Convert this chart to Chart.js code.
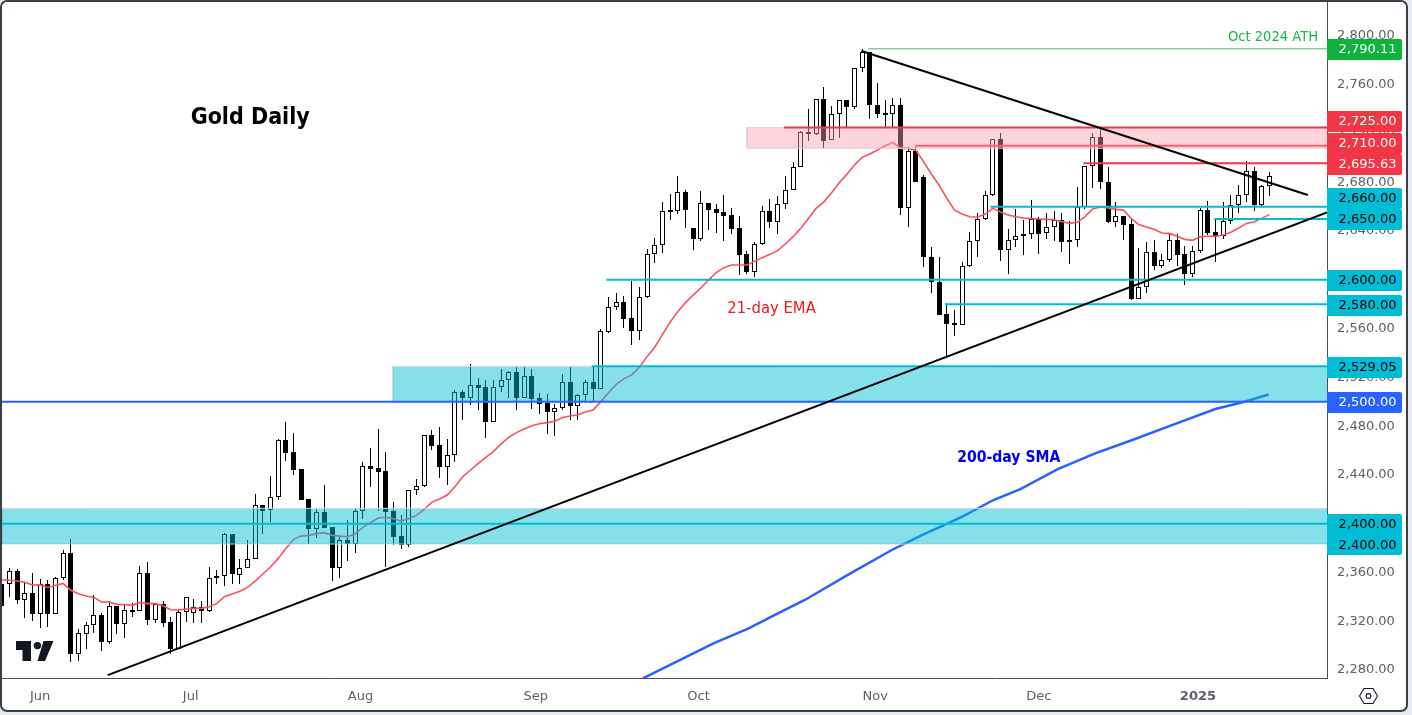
<!DOCTYPE html>
<html>
<head>
<meta charset="utf-8">
<title>Gold Daily</title>
<script src="https://cdn.jsdelivr.net/npm/chart.js@4/dist/chart.umd.min.js"></script>
<style>
  html, body { margin: 0; padding: 0; background: #e9ebf3; overflow: hidden; }
  #wrap { position: relative; width: 1412px; height: 715px; }
  #back { position: absolute; left: 0; top: 0; width: 1408px; height: 712px; background: #fff; border-radius: 7px; }
  #chart { position: absolute; left: 0; top: 0; }
  #frame { position: absolute; left: 0; top: 0; width: 1408px; height: 712px; box-sizing: border-box;
           border: 2px solid #3a3e4a; border-radius: 7px; pointer-events: none; }
  #logo { position: absolute; left: 14px; top: 639px; }
  #gear { position: absolute; left: 1358px; top: 686px; }
</style>
</head>
<body>
<div id="wrap">
  <div id="back"></div>
  <canvas id="chart" width="1412" height="715"></canvas>
  <div id="frame"></div>
  <svg id="logo" width="42" height="24" viewBox="14 639 42 24">
    <path fill="#131722" d="M16 641H31V661H22.5V650H16Z"/>
    <circle fill="#131722" cx="37.4" cy="645.6" r="3.7"/>
    <path fill="#131722" d="M43.5 641H53.5L45 661H37.5Z"/>
  </svg>
  <svg id="gear" width="21" height="20" viewBox="0 0 21 20">
    <path fill="none" stroke="#131722" stroke-width="1.1" d="M1.5 10L6 2.5H15L19.5 10L15 17.5H6Z"/>
    <circle fill="none" stroke="#131722" stroke-width="1.1" cx="10.5" cy="10" r="2.4"/>
  </svg>
</div>
<script>
// candles, one per trading day, day 0 is cut off by the left edge
const opens = [
  2350.5,2350.2,2360.9,2337.6,2342.8,2326.1,2350.2,2326.1,2355.1,2375.6,
  2293.3,2309.7,2316.6,2324.8,2303.2,2332.2,2317.9,2328.9,2328.1,2359.2,
  2321.2,2333.8,2319,2297.4,2327.2,2326.4,2331.4,2328.6,2355.1,2356.8,
  2391.5,2358.1,2363.3,2370.7,2415,2410.9,2421.6,2468.3,2458.5,2444.8,
  2420.2,2395.9,2409.3,2397.2,2363.9,2386.3,2383.6,2410.1,2447,2445.3,
  2442.9,2410.1,2389.6,2382.2,2427.3,2430.6,2472.4,2464.2,2446.7,2456,
  2507.8,2503.4,2513.5,2512.1,2483.7,2511.9,2517.6,2524.2,2503.4,2520.9,
  2502.8,2498.7,2491.9,2495.2,2516,2496.8,2505.8,2516,2510.8,2557.5,
  2577.5,2581.6,2568.5,2558.3,2585.7,2620.9,2628.3,2655.9,2656.2,2671.8,
  2642.2,2633.8,2662.7,2657.8,2655.4,2652.9,2642.2,2620.9,2606.7,2629.1,
  2656.2,2647.7,2661.9,2673.4,2692.3,2721,2719.3,2748,2714.4,2735.7,
  2747.2,2741.5,2773.5,2786.6,2743.1,2735.5,2735.7,2743.1,2658.6,2705.4,
  2684.1,2618.5,2598,2571.7,2564.3,2562.7,2611.1,2631.6,2649.6,2669.3,
  2715.2,2624.2,2632.4,2635.7,2637.3,2649.6,2638.1,2643,2648.8,2632.4,
  2632.4,2659.5,2693.1,2716.9,2680,2647.2,2652.1,2645.5,2584.3,2593.9,
  2622.6,2611.6,2616,2632.4,2620.9,2605.1,2623.4,2657,2639,2635.7,
  2648,2661.1,2669.3,2689,2661.7,2676.7
];
const highs = [
  2356,2363.3,2362.8,2351,2359.2,2354.3,2353.8,2356.5,2378.4,2387.1,
  2313.3,2319,2341.2,2326.4,2336.3,2332.2,2333,2334.6,2365.2,2368.3,
  2334.6,2336.3,2323.1,2330.3,2339.5,2337.9,2336.3,2364.1,2361.7,2392,
  2391.5,2370.7,2386.3,2424.3,2415.3,2439.1,2469.4,2483.3,2474,2444.8,
  2420.2,2411.7,2431.7,2397.2,2389.3,2403,2412.5,2450.5,2462,2477.6,
  2458.7,2417.5,2407.1,2427.3,2436.3,2472.4,2476.8,2479,2469.4,2509.3,
  2509.4,2531,2519.5,2517.9,2517.6,2526.9,2525,2528.3,2528.3,2526.6,
  2506.9,2506.1,2498.5,2522.5,2528.3,2506.7,2517.6,2528.3,2559.4,2585.7,
  2589.2,2586.5,2599.3,2593.9,2625,2634,2663.5,2670.4,2685.2,2673.4,
  2642.2,2672.6,2662.7,2662.2,2669.6,2658.6,2652.1,2623.4,2630.7,2660.3,
  2666,2668.5,2684.9,2696.4,2722,2739.8,2748,2757.9,2742.6,2747.2,
  2747.2,2773.7,2789,2786.9,2761.2,2747.2,2748.9,2748.9,2708.7,2708.7,
  2685.7,2626.9,2618.5,2580.7,2575,2614.4,2639.2,2654.5,2672.6,2715.5,
  2720.2,2641.7,2658.1,2649.1,2665.5,2651.3,2654.5,2656.2,2654.5,2648.5,
  2675.9,2693.1,2720.2,2723.4,2692.3,2663.6,2652.1,2650.4,2625.8,2630.8,
  2632.4,2620.9,2638.1,2637.3,2627.5,2627.5,2658.6,2664.4,2649.1,2663.6,
  2669.3,2677.5,2697.2,2692.3,2677.5,2688.4
];
const lows = [
  2326,2340.1,2334.4,2322.9,2320.4,2314.7,2315.5,2326.1,2353.5,2286.8,
  2287.6,2297.4,2310.6,2295.8,2301.5,2309.7,2306.5,2323.7,2328.1,2317.1,
  2318.2,2315.5,2293.3,2296.9,2319,2318.8,2318.8,2327.2,2350.5,2349.1,
  2350.5,2350.5,2363.3,2370.7,2391.5,2401.3,2419.6,2451.4,2440.2,2419.6,
  2383.6,2388.5,2396.7,2353.2,2355.4,2369.6,2376.2,2404.1,2430.3,2410.6,
  2364.7,2382.2,2378.9,2381.1,2423.5,2430.3,2460.4,2437.7,2431.9,2450.8,
  2485.2,2497.6,2493.3,2470.6,2483.7,2508,2503.4,2493.3,2503.4,2494.4,
  2490.3,2473.9,2472.2,2493.5,2485.2,2485.2,2500.1,2500.1,2510.8,2556.7,
  2575.6,2560.8,2546.9,2550.7,2584.8,2614.1,2622.3,2649.1,2654.3,2642.8,
  2624.7,2632.1,2640.9,2638.7,2632.1,2637.9,2604.2,2605,2602.6,2628.3,
  2642.8,2637.9,2658.4,2673.4,2692.3,2714.1,2719.1,2708.4,2714.4,2716.6,
  2725,2739.8,2770.7,2731.6,2733,2725,2725,2652.9,2643.6,2680,
  2610.8,2589.5,2571.4,2537.5,2554.2,2562.7,2610.3,2619,2649.1,2668.5,
  2615.7,2605.1,2627.2,2620.6,2633.8,2621.5,2633.8,2632.1,2623.1,2613.3,
  2627.2,2657.8,2675.6,2674.8,2646.3,2643.6,2632.9,2583.7,2584,2589.5,
  2607.8,2610,2614.9,2611.1,2596,2602.6,2621.7,2636.5,2614.9,2633.2,
  2645.5,2655.1,2664.1,2656.7,2660.3,2669
];
const closes = [
  2332.4,2360.9,2337.6,2342.8,2326.1,2350.2,2326.1,2355.1,2375.6,2293.3,
  2310,2316.6,2324.8,2303.2,2332.2,2317.9,2328.9,2327.8,2359.2,2321.2,
  2333.8,2318.8,2297.4,2327.2,2339.5,2331.4,2328.6,2355.1,2356.8,2391.2,
  2358.4,2363.3,2370.7,2415,2410.6,2421.6,2468.3,2458.2,2444.2,2419.6,
  2395.9,2409.3,2396.7,2363.9,2386.3,2383.6,2410.1,2447,2445,2442.6,
  2409.5,2389.3,2382.2,2427.3,2430.6,2472.4,2463.9,2446.7,2456,2507.7,
  2503.4,2513.5,2511.3,2483.7,2512.1,2517.6,2524.2,2503.4,2520.9,2502.6,
  2498.5,2491.9,2495.2,2516,2496.8,2505.8,2516,2510.8,2557.8,2577.5,
  2581.6,2568.2,2558.3,2585.7,2620.9,2628.3,2656.2,2656.2,2671.8,2657.5,
  2633.8,2662.7,2657.5,2655.1,2652.6,2642,2620.6,2606.7,2629.1,2656.2,
  2647.7,2661.9,2673.4,2692.3,2721,2719.3,2748,2714.1,2735.7,2747.2,
  2741.5,2773.5,2786.6,2743.1,2735.7,2735.7,2743.1,2658.6,2705.4,2680,
  2618.5,2598,2571.4,2564,2562.7,2611.1,2631.6,2649.6,2669.3,2715.2,
  2624.2,2632.4,2635.7,2637.3,2649.6,2637.9,2643,2648.8,2631.3,2631.3,
  2659.5,2693.1,2716.9,2680,2647.2,2652.1,2645.3,2584.3,2593.9,2622.6,
  2611.6,2616,2632.4,2620.6,2605.1,2623.4,2657,2638.7,2635.7,2648,
  2661.1,2669.3,2689,2661.7,2676.7,2684.9
];
// 21-day EMA, one per candle
const ema21 = [
  2353.8,2353.8,2352.9,2351.9,2349.7,2349.9,2347.7,2349.4,2351,2345.3,
  2342.5,2340.6,2339.5,2335.7,2335.7,2333.8,2333.5,2333,2335.4,2334.4,
  2334.4,2332.7,2329.4,2329.2,2330,2330.5,2330.5,2331.9,2334.4,2340.1,
  2342.3,2344.5,2347.7,2352.9,2358.7,2364.4,2371.5,2379.7,2387.1,2389.8,
  2390.4,2391.8,2392.6,2390.4,2389.8,2389.3,2391.5,2396.9,2400.8,2404.6,
  2405.2,2404,2402.1,2404.3,2406.8,2411.7,2417.7,2420.2,2423.5,2430.3,
  2438.5,2443.8,2449.2,2454.4,2459.1,2465.4,2470.8,2474.7,2477.7,2480.4,
  2482,2482.9,2484,2487,2488.3,2489.4,2491.6,2493.5,2500.1,2507.5,
  2514.3,2519,2522,2528.3,2537,2544.7,2555,2565.2,2573.9,2581.3,
  2587.5,2593.3,2599.9,2605.9,2610,2612.2,2612.2,2612.2,2615.2,2618.2,
  2620.9,2623.9,2629.4,2635.4,2642.2,2650.4,2658.6,2663.8,2671.2,2679.7,
  2686.5,2694.2,2700.5,2703.2,2706.5,2710,2712.8,2707.8,2707.8,2706.2,
  2696.9,2686.8,2677.8,2667.1,2657.3,2654,2651.8,2651.5,2653.7,2658.6,
  2655.6,2653.2,2651.8,2650.7,2650.2,2649.9,2649.6,2649.3,2647.7,2646.3,
  2647.2,2651.8,2658.1,2659.7,2658.9,2657.8,2657.3,2650.4,2645.3,2643.3,
  2641.4,2638.4,2638.1,2635.7,2633.2,2632.4,2635.4,2635.7,2635.7,2636.8,
  2639,2642.5,2646.3,2647.4,2650.4,2653.5
];
// 200-day SMA, read at a few days along its length
const smaDays = [83.46,87.79,92.65,97.23,100.2,104.53,110.47,115.86,119.65,125.04,129.09,132.6,137.46,142.32,147.17,152.58,157.97,161.76,164.89];
const smaValues = [2273.1,2286.7,2301.8,2314.1,2323.7,2337.4,2359.2,2378.4,2390.1,2405.7,2419.4,2428.4,2444.8,2457.7,2468.6,2481.5,2494,2500,2506];

// levels: from which day, at what price
const dayMax = 172.5;
const dayMin = 0.045;
const greenLevelDay = 112.8, greenLevelPrice = 2789.5;
const redLevelDays = [101.8, 140.8];
const redLevelPrices = [2725, 2695.63];
const lowRedLevelDay = 118.9, lowRedLevelPrice = 2710;
const cyanLevelDays = [128.7, 157.8, 78.7, 122.8, 76.8, dayMin];
const cyanLevelPrices = [2660, 2650, 2600, 2580, 2529.05, 2400];
const blueLevelPrice = 2500;

// zones
const zoneDays = [50.9, dayMin];
const zoneTops = [2529.05, 2412.6];
const zoneBottoms = [2500, 2383.3];
const redZoneDay = 97, redZoneTop = 2725, redZoneBottom = 2707.9;

// trend lines
const fallingDays = [111.9, 170], fallingPrices = [2787.7, 2669.6];
const risingDays = [13.81, 172.5], risingPrices = [2275.8, 2655.2];

// axes
const yTicks = [2280,2320,2360,2400,2440,2480,2520,2560,2600,2640,2680,2720,2760,2800];
const monthDays = [5, 24.6, 46.7, 69.5, 90.7, 113.7, 135, 155.7];
const monthLabels = ['Jun','Jul','Aug','Sep','Oct','Nov','Dec','2025'];

// price tags on the right axis. chipAt is the price they sit at after being pushed apart
const chipTexts = ['2,790.11','2,725.00','2,710.00','2,695.63','2,660.00','2,650.00','2,600.00','2,580.00','2,529.05','2,500.00','2,400.00','2,400.00'];
const chipAt = [2789.3,2729.9,2712.2,2695,2666.7,2649.5,2599.6,2579.1,2528.2,2499.5,2399.4,2382.5];
const chipFill = ['#0fb33c','#f23645','#f23645','#f23645','#00bcd4','#00bcd4','#00bcd4','#00bcd4','#00bcd4','#2962ff','#00bcd4','#00bcd4'];
const chipInk = ['#fff','#fff','#fff','#fff','#000','#000','#000','#000','#000','#fff','#000','#000'];

// text notes on the chart
const noteTexts = ['Gold Daily','Oct 2024 ATH','21-day EMA','200-day SMA'];
const noteDays = [32.35,165.47,100.2,131.08];
const notePrices = [2732.7,2799.2,2576,2453.9];
const noteFonts = ['bold 23px "DejaVu Sans Condensed","Noto Sans"','14.6px "DejaVu Sans Condensed","Noto Sans"','16.5px "DejaVu Sans Condensed","Noto Sans"','bold 15.6px "DejaVu Sans Condensed","Noto Sans"'];
const noteColors = ['#000','#1fb446','#f01818','#0000f0'];

const axisFont = '"DejaVu Sans"';
const days = closes.map((c, i) => i);

function hline(day, price, color, width, order) {
    return {
        type: 'line',
        data: [{x: day, y: price}, {x: dayMax, y: price}],
        borderColor: color, borderWidth: width, pointRadius: 0, order: order
    };
}

function zoneFill(day, top, bottom, fillColor, edgeColor) {
    return [{
        type: 'line',
        data: [{x: day, y: top}, {x: dayMax, y: top}],
        borderColor: edgeColor, borderWidth: 1, pointRadius: 0,
        backgroundColor: fillColor, fill: {value: bottom}, order: 7
    }, {
        type: 'line',
        data: [{x: day, y: top}, {x: day, y: bottom}, {x: dayMax, y: bottom}],
        borderColor: edgeColor, borderWidth: 1, pointRadius: 0, order: 7
    }];
}

// keeps wicks and bodies on whole pixels
const crispBars = {
    id: 'crispBars',
    beforeDatasetDraw(chart, args) {
        if (args.meta.type !== 'bar') return;
        args.meta.data.forEach(el => {
            el.x = Math.floor(el.x) + 0.5;
            el.y = Math.round(el.y);
            el.base = Math.round(el.base);
        });
    }
};

const notesAndChips = {
    id: 'notesAndChips',
    afterDraw(chart) {
        const ctx = chart.ctx, x = chart.scales.x, y = chart.scales.y;
        ctx.save();
        ctx.textBaseline = 'middle';
        noteTexts.forEach((t, i) => {
            ctx.font = noteFonts[i];
            ctx.fillStyle = noteColors[i];
            ctx.textAlign = 'center';
            ctx.fillText(t, x.getPixelForValue(noteDays[i]), y.getPixelForValue(notePrices[i]));
        });
        const left = x.right, w = 75, h = 21;
        chipTexts.forEach((t, i) => {
            const cy = y.getPixelForValue(chipAt[i]);
            ctx.fillStyle = chipFill[i];
            ctx.beginPath();
            ctx.roundRect(left, Math.round(cy - h / 2), w, h, [0, 2, 2, 0]);
            ctx.fill();
            ctx.fillStyle = chipInk[i];
            ctx.font = '13px ' + axisFont;
            ctx.textAlign = 'right';
            ctx.fillText(t, left + 69.5, cy + 0.5);
        });
        ctx.restore();
    }
};

const tickColor = '#5d606b';
const lineColor = '#4a4e59';

new Chart(document.getElementById('chart'), {
    type: 'bar',
    data: {
        datasets: [
            {
                // wicks
                data: days.map(i => ({x: i, y: [lows[i], highs[i]]})),
                backgroundColor: '#000', barThickness: 1, grouped: false,
                inflateAmount: 0, order: 11
            },
            {
                // bodies
                data: days.map(i => ({x: i, y: [opens[i], closes[i]]})),
                backgroundColor: days.map(i => closes[i] >= opens[i] ? '#fff' : '#000'),
                borderColor: '#000', borderWidth: 1, borderSkipped: false,
                barThickness: 5, grouped: false, minBarLength: 2,
                inflateAmount: 0, order: 10
            },
            {
                type: 'line',
                data: days.map(i => ({x: i, y: ema21[i]})),
                borderColor: '#f7525f', borderWidth: 1.6, pointRadius: 0, order: 9
            },
            {
                type: 'line',
                data: smaDays.map((d, i) => ({x: d, y: smaValues[i]})),
                borderColor: '#2962ff', borderWidth: 2.5, pointRadius: 0, order: 9
            },
            hline(lowRedLevelDay, lowRedLevelPrice, '#f23645', 2, 8),
            ...zoneFill(zoneDays[0], zoneTops[0], zoneBottoms[0], 'rgba(0,190,211,0.48)', '#d6d9e6'),
            ...zoneFill(zoneDays[1], zoneTops[1], zoneBottoms[1], 'rgba(0,190,211,0.48)', '#d6d9e6'),
            ...zoneFill(redZoneDay, redZoneTop, redZoneBottom, 'rgba(250,159,170,0.44)', '#d6d9e6'),
            hline(greenLevelDay, greenLevelPrice, '#4fb36a', 1, 6),
            ...redLevelDays.map((d, i) => hline(d, redLevelPrices[i], '#f23645', 2, 6)),
            ...cyanLevelDays.map((d, i) => hline(d, cyanLevelPrices[i], '#00bcd4', 2, 6)),
            hline(dayMin, blueLevelPrice, '#2962ff', 2, 6),
            {
                type: 'line',
                data: fallingDays.map((d, i) => ({x: d, y: fallingPrices[i]})),
                borderColor: '#000', borderWidth: 2, pointRadius: 0, order: 5
            },
            {
                type: 'line',
                data: risingDays.map((d, i) => ({x: d, y: risingPrices[i]})),
                borderColor: '#000', borderWidth: 2, pointRadius: 0, order: 5
            }
        ]
    },
    options: {
        responsive: false,
        animation: false,
        devicePixelRatio: 1,
        events: [],
        layout: {padding: {left: 2, top: 2, right: 0, bottom: 0}},
        plugins: {legend: {display: false}, tooltip: {enabled: false}, title: {display: false}},
        scales: {
            x: {
                type: 'linear',
                offset: false,
                min: dayMin,
                max: dayMax,
                afterBuildTicks: s => { s.ticks = monthDays.map(v => ({value: v})); },
                afterFit: s => { s.height = 37; s.paddingLeft = 0; s.paddingRight = 0; },
                grid: {display: true, drawOnChartArea: false, drawTicks: false, offset: false},
                border: {display: true, color: lineColor, width: 1},
                ticks: {
                    autoSkip: false, maxRotation: 0, padding: 11, color: tickColor,
                    font: c => ({family: axisFont, size: 13, weight: c.index === monthLabels.length - 1 ? 'bold' : 'normal'}),
                    callback: (v, i) => monthLabels[i]
                }
            },
            y: {
                position: 'right',
                min: 2273.4,
                max: 2827.9,
                afterBuildTicks: s => { s.ticks = yTicks.map(v => ({value: v})); },
                afterFit: s => { s.width = 85; s.paddingTop = 0; s.paddingBottom = 0; },
                grid: {display: true, drawOnChartArea: false, drawTicks: false},
                border: {display: true, color: lineColor, width: 1},
                ticks: {
                    autoSkip: false, padding: 10, color: tickColor,
                    font: {family: axisFont, size: 13},
                    callback: v => v.toLocaleString('en-US', {minimumFractionDigits: 2, maximumFractionDigits: 2})
                }
            }
        }
    },
    plugins: [crispBars, notesAndChips]
});
</script>
</body>
</html>
